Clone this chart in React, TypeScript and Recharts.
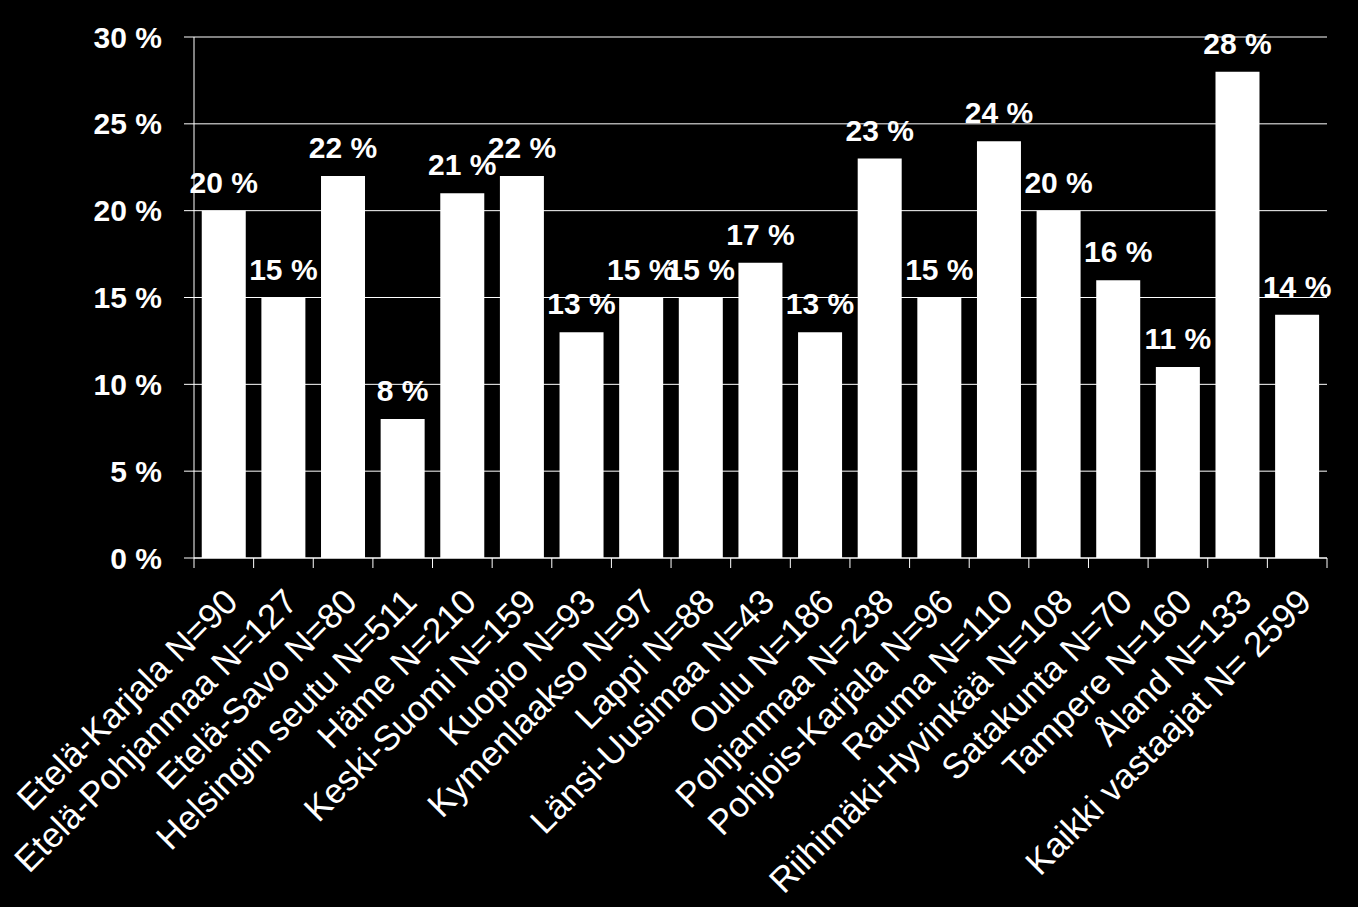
import React from "react";
import {
  BarChart,
  Bar,
  XAxis,
  YAxis,
  CartesianGrid,
  LabelList,
} from "recharts";

const regions = [
  "Etelä-Karjala N=90",
  "Etelä-Pohjanmaa N=127",
  "Etelä-Savo N=80",
  "Helsingin seutu N=511",
  "Häme N=210",
  "Keski-Suomi N=159",
  "Kuopio N=93",
  "Kymenlaakso N=97",
  "Lappi N=88",
  "Länsi-Uusimaa N=43",
  "Oulu N=186",
  "Pohjanmaa N=238",
  "Pohjois-Karjala N=96",
  "Rauma N=110",
  "Riihimäki-Hyvinkää N=108",
  "Satakunta N=70",
  "Tampere N=160",
  "Åland N=133",
  "Kaikki vastaajat N= 2599",
];

const shares = [20, 15, 22, 8, 21, 22, 13, 15, 15, 17, 13, 23, 15, 24, 20, 16, 11, 28, 14];

const yTicks = [0, 5, 10, 15, 20, 25, 30];

const data = regions.map((name, i) => ({ name, value: shares[i] }));

const WIDTH = 1358;
const HEIGHT = 907;
const Y_AXIS_WIDTH = 194;
const RIGHT = 31;
const FONT = "'Liberation Sans', Arial, sans-serif";
const band = (WIDTH - Y_AXIS_WIDTH - RIGHT) / regions.length;

function RegionTick(props: any) {
  const { x, y, payload, index } = props;
  const left = x - band / 2;
  const axisY = y - 10;
  return (
    <g>
      <line x1={left} y1={axisY} x2={left} y2={axisY + 10} stroke="#fff" />
      {index === regions.length - 1 && (
        <line x1={left + band} y1={axisY} x2={left + band} y2={axisY + 10} stroke="#fff" />
      )}
      <g transform={`translate(${x + 16},${axisY + 46})`}>
        <text
          transform="rotate(-45)"
          textAnchor="end"
          fill="#fff"
          fontSize={35}
          fontFamily={FONT}
        >
          {payload.value}
        </text>
      </g>
    </g>
  );
}

export default function App() {
  return (
    <div
      style={{
        position: "absolute",
        left: 0,
        top: 0,
        width: WIDTH,
        height: HEIGHT,
        background: "#000",
      }}
    >
      <BarChart
        width={WIDTH}
        height={HEIGHT}
        data={data}
        margin={{ top: 37, right: RIGHT, left: 0, bottom: 0 }}
        barCategoryGap="13%"
      >
        <CartesianGrid vertical={false} stroke="#fff" />
        <XAxis
          dataKey="name"
          interval={0}
          height={349}
          axisLine={{ stroke: "#fff" }}
          tickLine={false}
          tickSize={10}
          tickMargin={0}
          tick={<RegionTick />}
        />
        <YAxis
          width={Y_AXIS_WIDTH}
          domain={[0, 30]}
          ticks={yTicks}
          interval={0}
          tickFormatter={(v: number) => `${v} %`}
          axisLine={{ stroke: "#fff" }}
          tickLine={{ stroke: "#fff" }}
          tickSize={10}
          tickMargin={22}
          tick={{ fill: "#fff", fontSize: 30, fontWeight: "bold", fontFamily: FONT }}
        />
        <Bar dataKey="value" fill="#fff" isAnimationActive={false}>
          <LabelList
            dataKey="value"
            position="top"
            offset={18}
            formatter={(v: number) => `${v} %`}
            fill="#fff"
            fontSize={30}
            fontWeight="bold"
            fontFamily={FONT}
          />
        </Bar>
      </BarChart>
    </div>
  );
}
